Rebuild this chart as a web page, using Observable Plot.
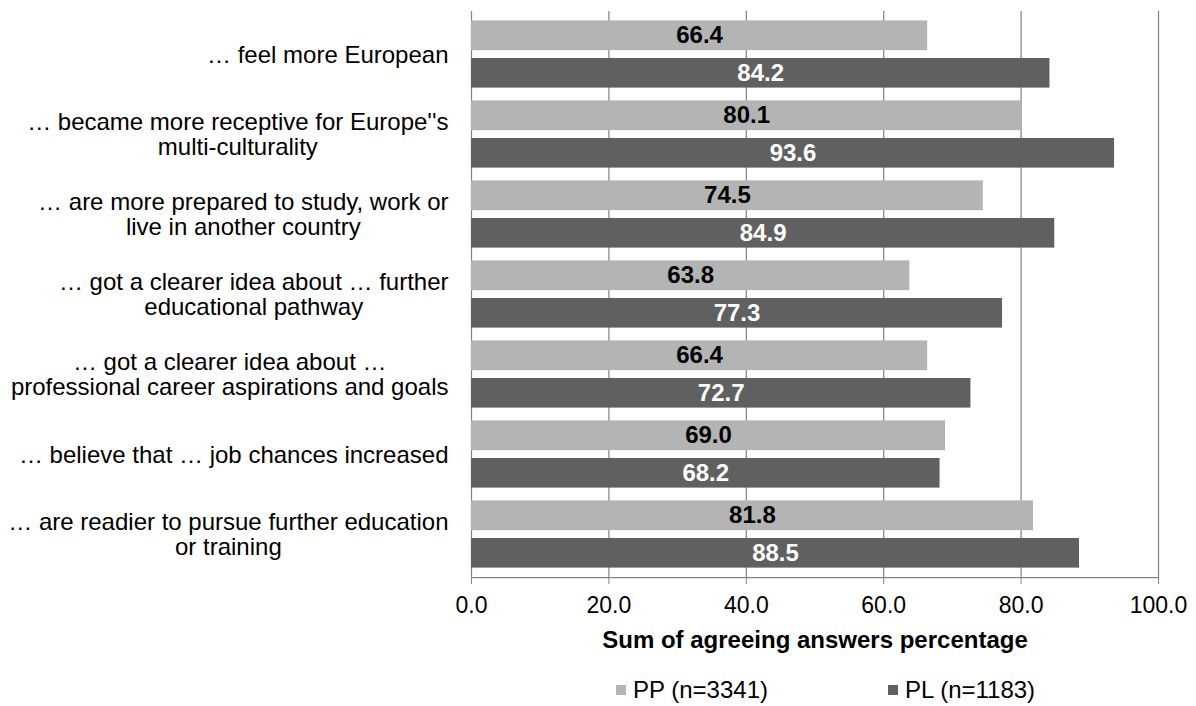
<!DOCTYPE html>
<html>
<head>
<meta charset="utf-8">
<script src="https://cdn.jsdelivr.net/npm/d3@7"></script>
<script src="https://cdn.jsdelivr.net/npm/@observablehq/plot@0.6"></script>
<style>
  html, body { margin: 0; padding: 0; background: #fff; }
  body { width: 1196px; height: 706px; overflow: hidden; font-family: "Liberation Sans", Arial, sans-serif; }
  #legend { display: flex; align-items: center; padding-left: 616px; font-size: 24px; line-height: 24px; color: #000; margin-top: 8px; }
  #legend .item { display: flex; align-items: center; }
  #legend .sw { width: 10px; height: 10px; margin-right: 7px; display: inline-block; }
</style>
</head>
<body>
<div id="chart"></div>
<div id="legend"></div>
<script>
const categories = [
  "… feel more European",
  "… became more receptive for Europe''s\nmulti-culturality",
  "… are more prepared to study, work or\nlive in another country",
  "… got a clearer idea about … further\neducational pathway",
  "… got a clearer idea about …\nprofessional career aspirations and goals",
  "… believe that … job chances increased",
  "… are readier to pursue further education\nor training"
];
const ppValues = [66.4, 80.1, 74.5, 63.8, 66.4, 69.0, 81.8];
const plValues = [84.2, 93.6, 84.9, 77.3, 72.7, 68.2, 88.5];
const seriesNames = ["PP (n=3341)", "PL (n=1183)"];
const seriesColors = ["#b4b4b4", "#606060"];
const xTicks = [0, 20, 40, 60, 80, 100];
const xTitle = "Sum of agreeing answers percentage";

const ppRows = categories.map((c, i) => ({cat: c, value: ppValues[i]}));
const plRows = categories.map((c, i) => ({cat: c, value: plValues[i]}));

const W = 1196, H = 670;
const mTop = 11, mBottom = H - 577, mLeft = 471, mRight = 38;
const band = (H - mTop - mBottom) / categories.length;
const outerPad = band * 0.079, barH = band * 0.379, innerGap = band * 0.086;
const fmt = d3.format(".1f");
const gray = "#868686";

const chart = Plot.plot({
  width: W,
  height: H,
  marginTop: mTop,
  marginBottom: mBottom,
  marginLeft: mLeft,
  marginRight: mRight,
  style: {fontFamily: "'Liberation Sans', Arial, sans-serif", fontSize: "24px", background: "#fff", color: "#000", overflow: "visible"},
  x: {domain: [0, 100]},
  y: {domain: categories, padding: 0},
  marks: [
    Plot.gridX(xTicks, {stroke: gray, strokeOpacity: 1, strokeWidth: 1.25}),
    Plot.barX(ppRows, {x: "value", y: "cat", fill: seriesColors[0],
      insetTop: outerPad, insetBottom: band - outerPad - barH}),
    Plot.barX(plRows, {x: "value", y: "cat", fill: seriesColors[1],
      insetTop: outerPad + barH + innerGap, insetBottom: outerPad}),
    Plot.frame({anchor: "bottom", stroke: gray, strokeWidth: 1.25}),
    Plot.axisX(xTicks, {tickSize: 7, tickPadding: 12, tickFormat: fmt, stroke: gray, fill: "#000", label: null, fontSize: 23}),
    Plot.axisY({tickSize: 0, tickPadding: 23, label: null, lineHeight: 1.05, fill: "#000", fontSize: 24}),
    Plot.text(ppRows, {x: d => d.value / 2, y: "cat", dy: outerPad + barH / 2 - band / 2,
      text: d => fmt(d.value), fill: "#000", fontWeight: "bold", fontSize: 24}),
    Plot.text(plRows, {x: d => d.value / 2, y: "cat", dy: outerPad + barH + innerGap + barH / 2 - band / 2,
      text: d => fmt(d.value), fill: "#fff", fontWeight: "bold", fontSize: 24}),
    Plot.text([xTitle], {frameAnchor: "bottom", dy: 70, text: d => d, fontWeight: "bold", fill: "#000", fontSize: 24})
  ]
});
document.getElementById("chart").appendChild(chart);

// center multi-line category labels on their widest line (block stays right-aligned)
chart.querySelectorAll('g[aria-label="y-axis tick label"] text').forEach(t => {
  const spans = t.querySelectorAll("tspan");
  if (spans.length > 1) {
    const w = Math.max(...Array.from(spans, s => s.getComputedTextLength()));
    t.setAttribute("text-anchor", "middle");
    spans.forEach(s => s.setAttribute("x", -w / 2));
  }
});

const legend = document.getElementById("legend");
seriesNames.forEach((name, i) => {
  const item = document.createElement("div");
  item.className = "item";
  if (i === 0) item.style.width = "272px";
  const sw = document.createElement("span");
  sw.className = "sw";
  sw.style.background = seriesColors[i];
  const label = document.createElement("span");
  label.textContent = name;
  item.appendChild(sw);
  item.appendChild(label);
  legend.appendChild(item);
});
</script>
</body>
</html>
